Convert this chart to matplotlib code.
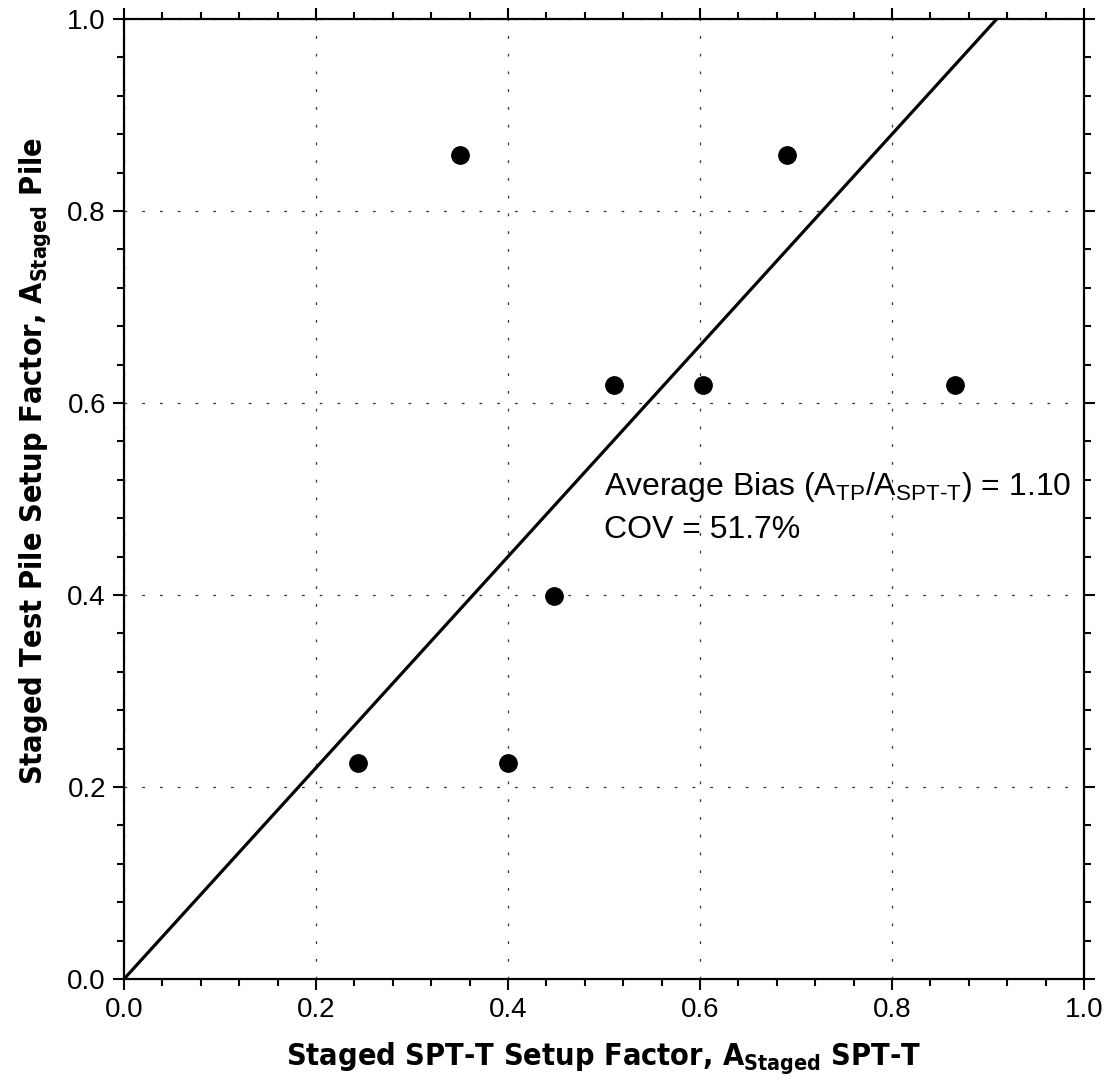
import numpy as np
import matplotlib
matplotlib.use("Agg")
import matplotlib.pyplot as plt
from matplotlib.ticker import MultipleLocator, FormatStrFormatter

# data
a_spt = [0.244, 0.400, 0.350, 0.448, 0.510, 0.603, 0.691, 0.866]
a_pile = [0.225, 0.225, 0.858, 0.399, 0.619, 0.619, 0.858, 0.619]
bias = 1.10
cov = 51.7

plt.rcParams["font.family"] = ["Liberation Sans", "DejaVu Sans"]
plt.rcParams["mathtext.fontset"] = "custom"
plt.rcParams["mathtext.rm"] = "Liberation Sans"
plt.rcParams["mathtext.bf"] = "DejaVu Sans:weight=bold:stretch=condensed"

fig = plt.figure(figsize=(11.14, 10.89), dpi=100)
ax = fig.add_axes([124 / 1114, 1 - 979 / 1089, 960 / 1114, 960 / 1089])

# bias line
x_line = np.array([0.0, 1.0])
ax.plot(x_line, bias * x_line, color="black", lw=2.3, zorder=3)

ax.plot(a_spt, a_pile, "o", color="black", ms=12.5, zorder=4)

ax.set_xlim(0, 1)
ax.set_ylim(0, 1)
for axis in (ax.xaxis, ax.yaxis):
    axis.set_major_locator(MultipleLocator(0.2))
    axis.set_minor_locator(MultipleLocator(0.04))
    axis.set_major_formatter(FormatStrFormatter("%.1f"))

ax.tick_params(which="both", direction="out", top=True, right=True,
               width=1.5, labelsize=20, pad=5)
ax.tick_params(which="major", length=8)
ax.tick_params(which="minor", length=5)
for s in ax.spines.values():
    s.set_linewidth(1.6)

ax.grid(True, which="major", color="#333333", lw=0.9, linestyle=(0, (2.2, 12)))
ax.set_axisbelow(True)

lab_font = dict(family=["DejaVu Sans"], stretch="condensed",
                weight="bold", size=22)
ax.set_xlabel(r"Staged SPT-T Setup Factor, A$_{\mathbf{Staged}}$ SPT-T",
              labelpad=12, **lab_font)
ax.set_ylabel(r"Staged Test Pile Setup Factor, A$_{\mathbf{Staged}}$ Pile",
              labelpad=12, **lab_font)
ax.yaxis.set_label_coords(-0.074, 0.54)

ax.text(0.50, 0.504,
        r"Average Bias (A$_{\text{TP}}$/A$_{\text{SPT-T}}$) = %.2f" % bias,
        fontsize=23, ha="left", va="baseline")
ax.text(0.50, 0.459, "COV = %.1f%%" % cov, fontsize=23,
        ha="left", va="baseline")

fig.savefig("out.png", dpi=100)
